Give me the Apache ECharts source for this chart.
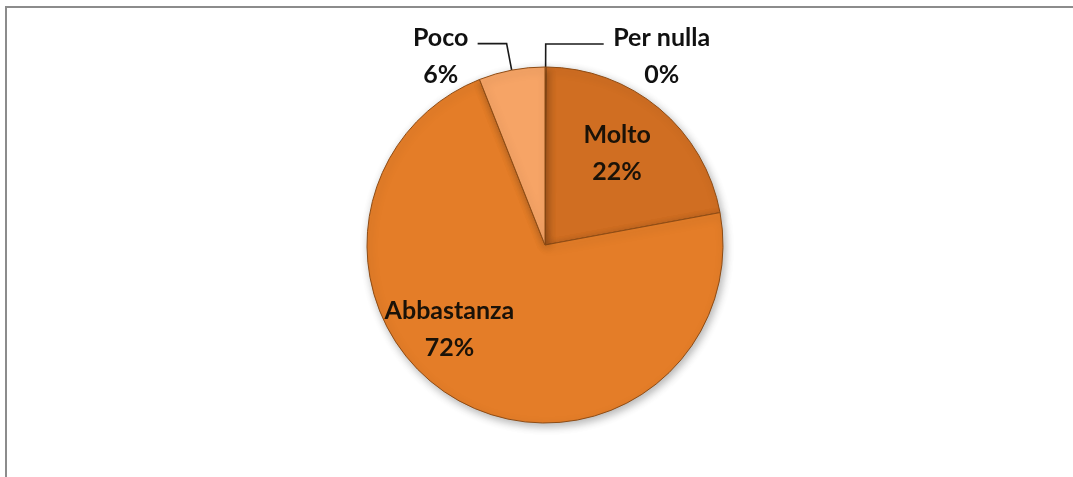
<!DOCTYPE html>
<html>
<head>
<meta charset="utf-8">
<script src="https://cdn.jsdelivr.net/npm/echarts@6/dist/echarts.min.js"></script>
<style>html,body{margin:0;padding:0;background:#fff}#c{width:1073px;height:477px}</style>
</head>
<body>
<div id="c"></div>
<script>
// Data
const categories = ['Per nulla', 'Molto', 'Abbastanza', 'Poco'];
const values = [0, 22, 72, 6];
const colors = ['#E98A3C', '#D06E22', '#E47D28', '#F6A466'];

const chart = echarts.init(document.getElementById('c'));
const FONT = 'Lato';

function itemFor(i) {
  const name = categories[i];
  const base = { name: name, value: values[i], itemStyle: { color: colors[i] } };
  if (name === 'Molto') {
    base.label = { position: 'inside', offset: [13, -21] };
  } else if (name === 'Abbastanza') {
    base.label = { position: 'inside', offset: [-51, 4] };
  } else if (name === 'Poco') {
    base.label = {
      position: 'outside',
      formatter: '{t|{b}}\n{t|{d}%}',
      padding: [25, 0, 0, 0],
      rich: { t: { width: 64, align: 'center', fontFamily: FONT, fontWeight: 'bold', fontSize: 25, lineHeight: 37, color: '#111' } }
    };
    base.labelLine = { length: 27, length2: 29 };
  } else {
    base.label = {
      position: 'outside',
      formatter: '{t|{b}}\n{t|{d}%}',
      padding: [25, 0, 0, 0],
      rich: { t: { width: 106, align: 'center', fontFamily: FONT, fontWeight: 'bold', fontSize: 25, lineHeight: 37, color: '#111' } }
    };
    base.labelLine = { length: 23, length2: 58 };
  }
  return base;
}

const option = {
  backgroundColor: '#ffffff',
  animation: false,
  graphic: [{
    type: 'rect',
    shape: { x: 6, y: 7, width: 1100, height: 500 },
    style: { fill: 'none', stroke: '#8c8c8c', lineWidth: 2 }
  }],
  series: [{
    type: 'pie',
    center: [545, 245],
    radius: 178,
    startAngle: 90,
    clockwise: true,
    minAngle: 0.4,
    minShowLabelAngle: 0,
    avoidLabelOverlap: false,
    itemStyle: {
      borderColor: '#8f4c14',
      borderWidth: 1,
      shadowBlur: 8,
      shadowOffsetX: 2,
      shadowOffsetY: 3,
      shadowColor: 'rgba(0,0,0,0.3)'
    },
    label: {
      formatter: '{b}\n{d}%',
      fontFamily: FONT,
      fontWeight: 'bold',
      fontSize: 25,
      lineHeight: 37,
      color: '#1a1208',
      align: 'center'
    },
    labelLine: {
      show: true,
      lineStyle: { color: '#1a1a1a', width: 1.6 }
    },
    data: categories.map((c, i) => itemFor(i))
  }]
};
chart.setOption(option);
</script>
</body>
</html>
